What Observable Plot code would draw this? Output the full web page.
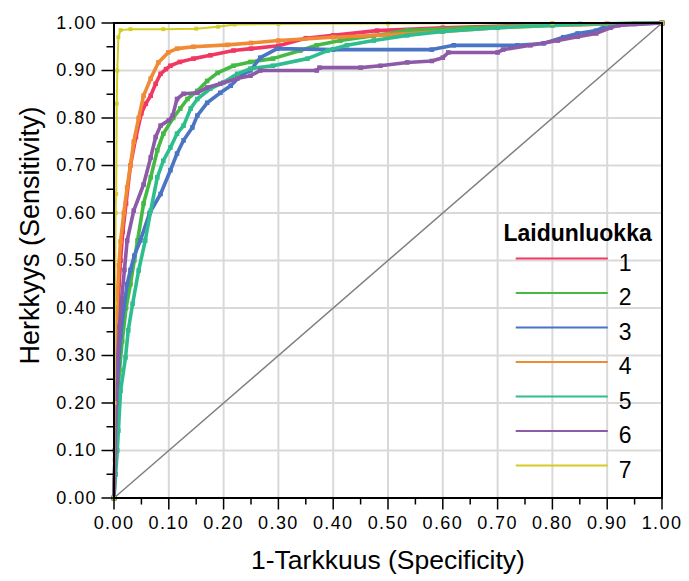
<!DOCTYPE html>
<html>
<head>
<meta charset="utf-8">
<script src="https://cdn.jsdelivr.net/npm/d3@7"></script>
<script src="https://cdn.jsdelivr.net/npm/@observablehq/plot@0.6"></script>
<style>
  html, body { margin: 0; padding: 0; background: #fff; }
  #chart svg { display: block; }
  #chart g[aria-label$="tick label"] text { letter-spacing: 1.4px; }
</style>
</head>
<body>
<div id="chart"></div>
<script>
// Series names (legend)
const classes = ["1", "2", "3", "4", "5", "6", "7"];
const colors = ["#f03862", "#44b944", "#4a74c4", "#f08a34", "#2ebd8e", "#8c5aa6", "#d4cc24"];

// 1-specificity (fpr) and sensitivity (tpr) per class
const fpr1 = [0,0.002,0.004,0.006,0.008,0.012,0.016,0.022,0.03,0.04,0.05,0.058,0.067,0.076,0.085,0.095,0.103,0.12,0.145,0.176,0.218,0.25,0.3,0.35,0.4,0.48,0.6,0.75,0.9,1];
const tpr1 = [0,0.08,0.2,0.3,0.42,0.5,0.56,0.62,0.7,0.76,0.81,0.83,0.847,0.872,0.893,0.903,0.91,0.918,0.925,0.932,0.942,0.946,0.952,0.968,0.974,0.984,0.99,0.995,0.998,1];

const fpr2 = [0,0.003,0.006,0.01,0.015,0.022,0.03,0.037,0.043,0.054,0.067,0.079,0.09,0.108,0.121,0.134,0.152,0.17,0.189,0.218,0.249,0.29,0.34,0.37,0.413,0.474,0.535,0.65,0.8,1];
const tpr2 = [0,0.1,0.2,0.27,0.33,0.4,0.45,0.5,0.542,0.62,0.675,0.732,0.767,0.8,0.82,0.84,0.857,0.878,0.895,0.91,0.918,0.925,0.942,0.953,0.963,0.973,0.984,0.99,0.996,1];

const fpr3 = [0,0.002,0.005,0.008,0.012,0.018,0.024,0.03,0.037,0.048,0.065,0.085,0.103,0.115,0.127,0.143,0.152,0.17,0.194,0.213,0.231,0.249,0.267,0.298,0.4,0.58,0.62,0.736,0.784,0.82,0.846,0.88,0.9,0.95,1];
const tpr3 = [0,0.1,0.2,0.28,0.34,0.4,0.45,0.48,0.51,0.542,0.6,0.64,0.69,0.725,0.753,0.78,0.805,0.832,0.853,0.868,0.889,0.9,0.927,0.946,0.944,0.944,0.953,0.953,0.957,0.97,0.978,0.984,0.995,0.998,1];

const fpr4 = [0,0.002,0.004,0.006,0.009,0.012,0.018,0.024,0.03,0.036,0.045,0.054,0.067,0.081,0.099,0.115,0.145,0.207,0.25,0.3,0.4,0.5,0.6,0.7,0.8,0.9,1];
const tpr4 = [0,0.1,0.3,0.42,0.49,0.54,0.6,0.654,0.7,0.75,0.8,0.847,0.883,0.917,0.938,0.946,0.95,0.954,0.958,0.963,0.97,0.975,0.982,0.99,0.995,0.998,1];

const fpr5 = [0,0.003,0.006,0.008,0.012,0.021,0.026,0.034,0.045,0.057,0.067,0.079,0.09,0.103,0.115,0.127,0.14,0.152,0.176,0.2,0.225,0.249,0.29,0.353,0.39,0.425,0.474,0.535,0.6,0.7,0.8,0.85,1];
const tpr5 = [0,0.05,0.1,0.142,0.226,0.296,0.353,0.409,0.479,0.542,0.605,0.675,0.71,0.738,0.767,0.784,0.82,0.84,0.862,0.875,0.893,0.904,0.91,0.925,0.942,0.953,0.963,0.974,0.982,0.99,0.995,0.998,1];

const fpr6 = [0,0.002,0.004,0.007,0.01,0.014,0.019,0.024,0.036,0.054,0.067,0.076,0.085,0.1,0.107,0.115,0.127,0.152,0.17,0.194,0.225,0.249,0.267,0.37,0.375,0.45,0.486,0.535,0.58,0.6,0.61,0.7,0.71,0.76,0.81,0.846,0.88,0.906,0.92,1];
const tpr6 = [0,0.1,0.2,0.3,0.36,0.42,0.48,0.542,0.605,0.66,0.717,0.76,0.784,0.795,0.805,0.84,0.851,0.853,0.864,0.872,0.883,0.889,0.9,0.9,0.906,0.906,0.91,0.917,0.92,0.927,0.938,0.938,0.944,0.953,0.963,0.971,0.978,0.99,0.995,1];

const fpr7 = [0,0.001,0.002,0.003,0.004,0.005,0.006,0.008,0.012,0.03,0.09,0.15,0.19,0.22,0.3,0.5,0.8,1];
const tpr7 = [0,0.2,0.41,0.6,0.64,0.83,0.9,0.97,0.985,0.987,0.987,0.988,0.992,0.997,0.998,0.999,1,1];

const majorTicks = [0,0.1,0.2,0.3,0.4,0.5,0.6,0.7,0.8,0.9,1];
const minorTicks = [0.05,0.15,0.25,0.35,0.45,0.55,0.65,0.75,0.85,0.95];
const xTitle = "1-Tarkkuus (Specificity)";
const yTitle = "Herkkyys (Sensitivity)";
const legendTitle = "Laidunluokka";
const diagonal = [0, 1];

const fprs = [fpr1, fpr2, fpr3, fpr4, fpr5, fpr6, fpr7];
const tprs = [tpr1, tpr2, tpr3, tpr4, tpr5, tpr6, tpr7];
const rows = [];
classes.forEach((c, i) => fprs[i].forEach((v, j) => rows.push({cls: c, order: i, x: v, y: tprs[i][j]})));

// legend layout in data space
const legendRows = classes.map((c, i) => ({cls: c, y: 0.504 - i * 0.0726}));

const font = "'Liberation Sans', Arial, sans-serif";
const fmt = d3.format(".2f");

const marks = [
  Plot.gridX(majorTicks.slice(1, -1), {stroke: "#d9d9d9", strokeOpacity: 1, strokeWidth: 2}),
  Plot.gridY(majorTicks.slice(1, -1), {stroke: "#d9d9d9", strokeOpacity: 1, strokeWidth: 2}),
  Plot.line(diagonal, {x: d => d, y: d => d, stroke: "#808080", strokeWidth: 1.5}),
];
classes.forEach((c, i) => {
  const data = rows.filter(r => r.order === i);
  const w = c === "7" ? 2 : 3.6;
  marks.push(Plot.line(data, {x: "x", y: "y", stroke: colors[i], strokeWidth: w, strokeLinejoin: "miter", curve: "linear"}));
  marks.push(Plot.dot(data, {x: "x", y: "y", fill: colors[i], symbol: "square", r: c === "7" ? 2.2 : 2.6, stroke: "none"}));
});
marks.push(
  Plot.frame({stroke: "#000", strokeWidth: 2}),
  Plot.axisX(majorTicks, {tickSize: 12, tickPadding: 6, tickFormat: fmt, stroke: "#000", strokeWidth: 1.5, fontSize: 18, label: null}),
  Plot.axisX(minorTicks, {tickSize: 7, tickFormat: () => "", stroke: "#000", strokeWidth: 1.5, label: null}),
  Plot.axisY(majorTicks, {tickSize: 12, tickPadding: 5, tickFormat: fmt, stroke: "#000", strokeWidth: 1.5, fontSize: 18, label: null}),
  Plot.axisY(minorTicks, {tickSize: 7, tickFormat: () => "", stroke: "#000", strokeWidth: 1.5, label: null}),
  Plot.text([xTitle], {frameAnchor: "bottom", dy: 71, fontSize: 26.5, fill: "#000"}),
  Plot.text([yTitle], {frameAnchor: "left", textAnchor: "middle", rotate: -90, dx: -84, dy: -25, fontSize: 27, fill: "#000"}),
  Plot.text([legendTitle], {x: 0.846, y: 0.557, fontSize: 23, fontWeight: "bold", fill: "#000"}),
  Plot.ruleY(legendRows, {y: "y", x1: 0.734, x2: 0.902, stroke: "cls", strokeWidth: 2}),
  Plot.text(legendRows, {x: 0.921, y: "y", text: "cls", textAnchor: "start", dy: 5, fontSize: 23, fill: "#000"})
);

const chart = Plot.plot({
  width: 689,
  height: 581,
  marginLeft: 113.5,
  marginRight: 27.5,
  marginTop: 22.5,
  marginBottom: 83.5,
  style: {fontFamily: font, background: "#fff", color: "#000"},
  x: {domain: [0, 1], axis: null},
  y: {domain: [0, 1], axis: null},
  color: {domain: classes, range: colors},
  marks
});
document.getElementById("chart").appendChild(chart);
</script>
</body>
</html>
